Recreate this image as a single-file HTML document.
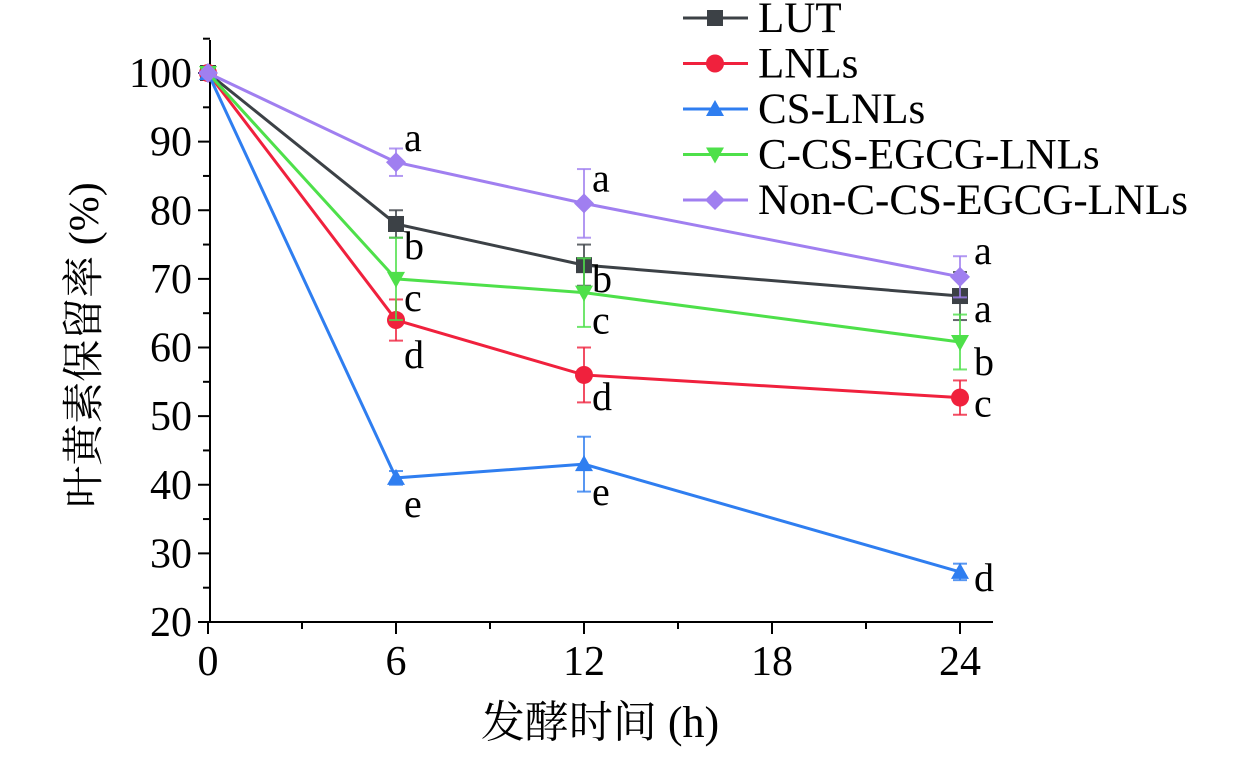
<!DOCTYPE html>
<html><head><meta charset="utf-8"><style>
body{margin:0;background:#fff}
svg{display:block;font-family:"Liberation Serif","Noto Serif CJK SC",serif}
</style></head><body>
<svg id="c" width="1260" height="771"></svg>
<script>
const hours=[0,6,12,24];
const xTicks=[0,6,12,18,24];
const yTicks=[20,30,40,50,60,70,80,90,100];
const names=["LUT","LNLs","CS-LNLs","C-CS-EGCG-LNLs","Non-C-CS-EGCG-LNLs"];
const lutV=[100,78,72,67.5], lutE=[0,2,3,3.5];
const lnlV=[100,64,56,52.7], lnlE=[0,3,4,2.5];
const csV=[100,41,43,27.3], csE=[0,1,4,1.2];
const ccsV=[100,70,68,60.8], ccsE=[0,6,5,4];
const nonV=[100,87,81,70.3], nonE=[0,2,5,3];
const lutL=["","b","b","a"], lnlL=["","d","d","c"], csL=["","e","e","d"], ccsL=["","c","c","b"], nonL=["","a","a","a"];
const colors=["#3c4146","#f0213d","#2f7ef0","#4ee04a","#a07ff0"];
const markers=["square","circle","tri","tridown","diamond"];
const labOff=[[0,23,15,14],[0,36,23,7],[0,27,29,7],[0,20,29,21],[0,-23,-24,-25]];
const series=[[lutV,lutE,lutL],[lnlV,lnlE,lnlL],[csV,csE,csL],[ccsV,ccsE,ccsL],[nonV,nonE,nonL]];
const X=h=>208+h*(960-208)/24;
const Y=v=>622-(v-20)*(622-73)/80;
const svg=document.getElementById('c');const NS="http://www.w3.org/2000/svg";
function mk(t,a,p){const e=document.createElementNS(NS,t);for(const k in a)e.setAttribute(k,a[k]);(p||svg).appendChild(e);return e;}
let e=mk('line',{x1:210,y1:40,x2:210,y2:622,stroke:'#000','stroke-width':2});


e=mk('line',{x1:209,y1:622,x2:993,y2:622,stroke:'#000','stroke-width':2});


yTicks.forEach(v=>{const y=Y(v);mk('line',{x1:198,y1:y,x2:210,y2:y,stroke:'#000','stroke-width':2});
 if(v<100)mk('line',{x1:203,y1:Y(v+5),x2:210,y2:Y(v+5),stroke:'#000','stroke-width':2});
 const t=mk('text',{x:192,y:y+14,'text-anchor':'end','font-size':42});t.textContent=v;
 
 });
mk('line',{x1:203,y1:Y(105),x2:210,y2:Y(105),stroke:'#000','stroke-width':2});
xTicks.forEach(h=>{const x=X(h);mk('line',{x1:x,y1:622,x2:x,y2:634,stroke:'#000','stroke-width':2});
 if(h<24)mk('line',{x1:X(h+3),y1:622,x2:X(h+3),y2:629,stroke:'#000','stroke-width':2});
 const t=mk('text',{x:x,y:675,'text-anchor':'middle','font-size':42});t.textContent=h;
 
 });
let t=mk('text',{x:600,y:737,'text-anchor':'middle','font-size':44});t.textContent='发酵时间 (h)';


t=mk('text',{x:0,y:0,'text-anchor':'middle','font-size':42,transform:'translate(98,345) rotate(-90)'});t.textContent='叶黄素保留率 (%)';


function marker(k,x,y,c,g){const s=8;
 if(k=='square')return mk('rect',{x:x-s,y:y-s,width:2*s,height:2*s,fill:c},g);
 if(k=='circle')return mk('circle',{cx:x,cy:y,r:9,fill:c},g);
 if(k=='tri')return mk('polygon',{points:`${x},${y-9} ${x-9},${y+7} ${x+9},${y+7}`,fill:c},g);
 if(k=='tridown')return mk('polygon',{points:`${x},${y+9} ${x-9},${y-7} ${x+9},${y-7}`,fill:c},g);
 return mk('polygon',{points:`${x},${y-10} ${x+10},${y} ${x},${y+10} ${x-10},${y}`,fill:c},g);}
series.forEach((s,i)=>{const [v,er,lb]=s;const c=colors[i];
 const g=mk('g',{});
 
 
 mk('polyline',{points:hours.map((h,j)=>X(h)+','+Y(v[j])).join(' '),fill:'none',stroke:c,'stroke-width':3},g);
 hours.forEach((h,j)=>{const x=X(h),y=Y(v[j]);
  if(er[j]>0){mk('line',{x1:x,y1:Y(v[j]+er[j]),x2:x,y2:Y(v[j]-er[j]),stroke:c,'stroke-width':2,opacity:0.8},g);
   [Y(v[j]+er[j]),Y(v[j]-er[j])].forEach(yy=>mk('line',{x1:x-7,y1:yy,x2:x+7,y2:yy,stroke:c,'stroke-width':2,opacity:0.8},g));}
  const m=marker(markers[i],x,y,c,g);
  
  
  if(lb[j]){const tt=mk('text',{x:x+(h==24?14:8),y:y+labOff[i][j]+12,'font-size':40},g);tt.textContent=lb[j];
   
   }
 });
});
const lg=mk('g',{});


names.forEach((n,i)=>{const y=18+i*45.5;const g=mk('g',{},lg);
 
 
 mk('line',{x1:683,y1:y,x2:748,y2:y,stroke:colors[i],'stroke-width':3},g);
 marker(markers[i],715,y,colors[i],g);
 const tt=mk('text',{x:758,y:y+14,'font-size':43},g);tt.textContent=n;});
</script>
</body></html>
